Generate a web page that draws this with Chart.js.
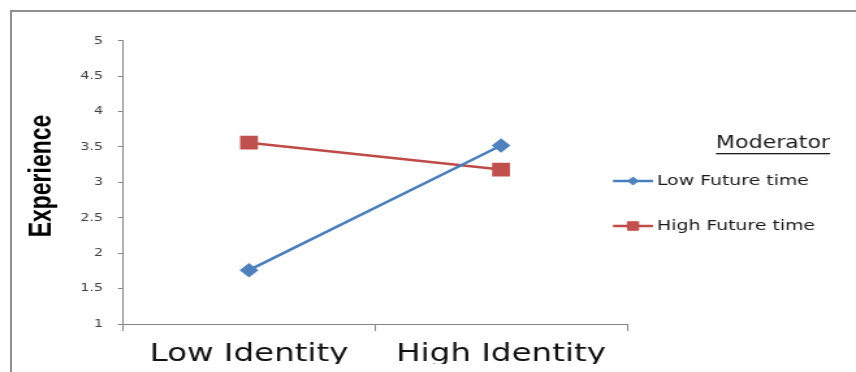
<!DOCTYPE html>
<html>
<head>
<meta charset="utf-8">
<script src="https://cdn.jsdelivr.net/npm/chart.js@4"></script>
<style>
  html, body { margin: 0; padding: 0; background: #fff; width: 856px; height: 372px; overflow: hidden; }
  #frame { position: absolute; left: 10px; top: 10px; width: 900px; height: 400px;
           border-left: 2px solid #8f8f8f; border-top: 2px solid #8f8f8f; box-sizing: border-box; }
  /* the chart is laid out narrow and widened to the page width */
  #wrap { position: absolute; left: 0; top: 0; width: 658px; height: 372px;
          transform: scaleX(1.30091); transform-origin: 0 0; }
</style>
</head>
<body>
<div id="frame"></div>
<div id="wrap"><canvas id="c"></canvas></div>
<script>
// Interaction plot: Experience by Identity, moderated by Future time
const categories = ['Low Identity', 'High Identity'];
const seriesNames = ['Low Future time', 'High Future time'];
const lowFutureTime = [1.76, 3.52];
const highFutureTime = [3.56, 3.18];
const legendTitle = 'Moderator';
const yTitle = 'Experience';
const yMin = 1, yMax = 5, yStep = 0.5;

const AXIS = '#868686';
const BLUE_LINE = '#4a7ebb', BLUE_FILL = '#4f81bd';
const RED_LINE = '#be4b48', RED_FILL = '#c0504d';

// Rotated value-axis title, placed a little above the plot's middle
const axisTitle = {
  id: 'axisTitle',
  afterDraw(chart) {
    const ctx = chart.ctx;
    ctx.save();
    ctx.translate(32.7, 176);
    ctx.rotate(-Math.PI / 2);
    ctx.font = 'bold 23px "Liberation Sans"';
    ctx.fillStyle = '#000';
    ctx.textAlign = 'center';
    ctx.textBaseline = 'middle';
    ctx.fillText(yTitle, 0, 0);
    ctx.restore();
  }
};

// Side legend with an underlined heading
const sideLegend = {
  id: 'sideLegend',
  afterDraw(chart) {
    const ctx = chart.ctx;
    ctx.save();
    const cx = 594.2, ty = 144;
    ctx.font = '17px "DejaVu Sans"';
    ctx.fillStyle = '#1a1a1a';
    ctx.textAlign = 'center';
    ctx.textBaseline = 'middle';
    ctx.fillText(legendTitle, cx, ty);
    const w = ctx.measureText(legendTitle).width;
    ctx.fillRect(cx - w / 2, ty + 9, w, 1.3);

    const rows = [181, 226];
    const x0 = 471.2, x1 = 502.0, xm = (x0 + x1) / 2;
    chart.data.datasets.forEach((ds, i) => {
      const y = rows[i];
      ctx.strokeStyle = ds.borderColor;
      ctx.lineWidth = 2.5;
      ctx.beginPath();
      ctx.moveTo(x0, y);
      ctx.lineTo(x1, y);
      ctx.stroke();
      ctx.fillStyle = ds.pointBackgroundColor;
      ctx.strokeStyle = ds.pointBorderColor;
      ctx.lineWidth = 1;
      const r = ds.pointStyle === 'rect' ? 6 : 4;
      if (Chart.helpers && Chart.helpers.drawPoint) {
        Chart.helpers.drawPoint(ctx, { pointStyle: ds.pointStyle, radius: r, borderWidth: 1, rotation: 0 }, xm, y);
      } else {
        ctx.beginPath();
        if (ds.pointStyle === 'rect') {
          const s = r * Math.SQRT1_2;
          ctx.rect(xm - s, y - s, 2 * s, 2 * s);
        } else {
          ctx.moveTo(xm - r, y); ctx.lineTo(xm, y - r); ctx.lineTo(xm + r, y); ctx.lineTo(xm, y + r); ctx.closePath();
        }
        ctx.fill(); ctx.stroke();
      }
      ctx.font = '14.5px "DejaVu Sans"';
      ctx.fillStyle = '#1a1a1a';
      ctx.textAlign = 'left';
      ctx.textBaseline = 'middle';
      ctx.fillText(ds.label, 505.0, y);
    });
    ctx.restore();
  }
};

new Chart(document.getElementById('c'), {
  type: 'line',
  data: {
    labels: categories,
    datasets: [
      {
        label: seriesNames[0],
        data: lowFutureTime,
        borderColor: BLUE_LINE,
        backgroundColor: BLUE_FILL,
        pointBackgroundColor: BLUE_FILL,
        pointBorderColor: BLUE_FILL,
        pointStyle: 'rectRot',
        pointRadius: 5.5,
        borderWidth: 2.5,
        tension: 0
      },
      {
        label: seriesNames[1],
        data: highFutureTime,
        borderColor: RED_LINE,
        backgroundColor: RED_FILL,
        pointBackgroundColor: RED_FILL,
        pointBorderColor: RED_FILL,
        pointStyle: 'rect',
        pointRadius: 8,
        borderWidth: 2.5,
        tension: 0
      }
    ]
  },
  options: {
    responsive: true,
    maintainAspectRatio: false,
    animation: false,
    devicePixelRatio: 1,
    layout: { padding: { left: 0, top: 40.7, right: 176, bottom: 8 } },
    plugins: { legend: { display: false }, tooltip: { enabled: false } },
    scales: {
      x: {
        type: 'category',
        offset: true,
        afterFit(scale) { scale.height = 40; },
        border: { display: true, color: AXIS, width: 1 },
        grid: { display: true, offset: true, drawOnChartArea: false, drawTicks: true, tickLength: 7, color: AXIS },
        ticks: { color: '#111', padding: 8, font: { family: 'DejaVu Sans', size: 25 }, maxRotation: 0 }
      },
      y: {
        min: yMin,
        max: yMax,
        afterFit(scale) { scale.width = 94.55; },
        border: { display: true, color: AXIS, width: 1 },
        grid: { display: true, drawOnChartArea: false, drawTicks: true, tickLength: 4, color: AXIS },
        ticks: {
          stepSize: yStep,
          color: '#404040',
          padding: 11.4,
          font: { family: 'DejaVu Sans', size: 11 },
          callback: (v) => String(Number(v))
        }
      }
    }
  },
  plugins: [axisTitle, sideLegend]
});
</script>
</body>
</html>
